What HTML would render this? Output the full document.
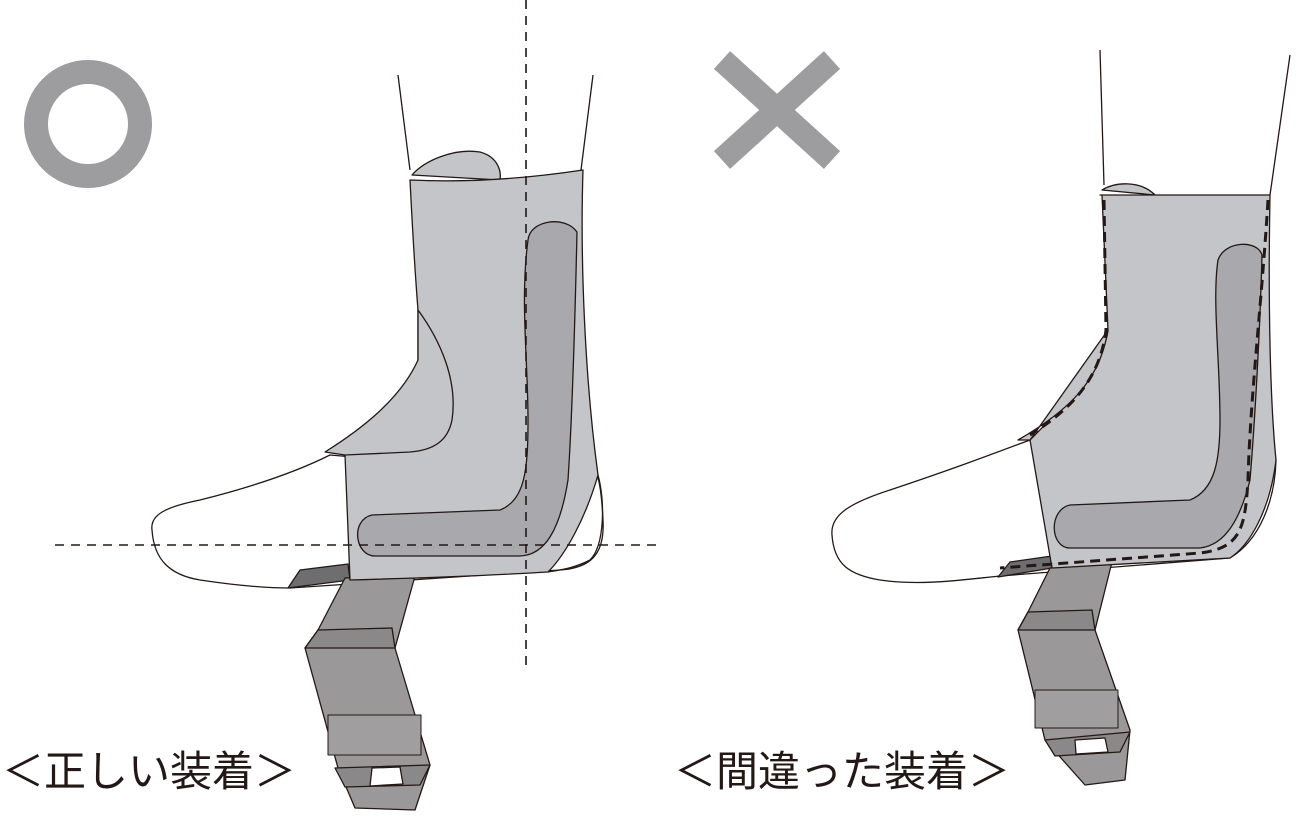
<!DOCTYPE html>
<html><head><meta charset="utf-8">
<style>
html,body{margin:0;padding:0;background:#fff;}
svg{display:block;}
text{font-family:"Liberation Sans","Noto Sans CJK JP",sans-serif;}
</style></head>
<body>
<svg width="1300" height="819" viewBox="0 0 1300 819" xmlns="http://www.w3.org/2000/svg">
<g stroke="#231815" stroke-width="1.3" stroke-linejoin="round">
<!-- LEFT FIGURE -->
<circle cx="88" cy="124" r="52" fill="none" stroke="#9d9d9f" stroke-width="24"/>
<line x1="398" y1="75" x2="410" y2="170" fill="none"/>
<line x1="593" y1="75" x2="581" y2="170" fill="none"/>
<path d="M412 175 C425 160 455 148 480 152 C495 156 502 168 500 180 Z" fill="#c4c5c9"/>
<path d="M330 455 C300 470 260 485 200 500 C165 507 150 515 152 530 C154 560 170 575 200 580 C240 586 270 588 290 588 L560 570 C590 568 605 555 603 520 C602 500 600 485 598 478 Z" fill="#fff"/>
<path d="M288 588 L300 570 L348 564 L350 580 Z" fill="#6e6e70"/>
<path d="M345 578 L415 576 L395 648 L430 765 L415 810 L355 808 L338 768 L305 648 L318 630 Z" fill="#9a9898"/>
<path d="M318 630 L392 628 L395 648 L305 648 Z" fill="#8a8888"/>
<rect x="328" y="715" width="93" height="40" fill="#a09e9e" stroke-width="1"/>
<path d="M335 768 L430 765 L420 785 L345 787 Z" fill="#8a8888"/>
<path d="M372 768 L400 767 L403 784 L370 786 Z" fill="#fff"/>
<path d="M410 180 C470 183 530 178 583 170 C580 260 585 380 598 475 C585 520 565 555 548 572 C480 576 420 578 350 580 L345 455 C380 450 410 440 418 430 L418 310 C414 260 412 220 410 180 Z" fill="#c4c5c9"/>
<path d="M418 310 C440 340 458 380 452 420 C448 440 435 450 410 452 L345 455 L325 452 C360 430 400 400 418 360 Z" fill="#c4c5c9"/>
<path d="M528 240 C530 220 565 215 577 232 C575 320 572 420 568 480 C560 530 545 555 520 556 L375 556 C355 556 350 520 372 515 L500 510 C525 500 528 470 528 420 C528 360 520 300 528 240 Z" fill="#a9a9ad"/>
<path d="M598 475 C605 500 605 545 590 560 C575 568 560 570 548 572" fill="none"/>
</g>
<g stroke="#231815" stroke-width="1.6" stroke-dasharray="9,7" fill="none">
<line x1="526" y1="0" x2="526" y2="668"/>
<line x1="55" y1="545" x2="658" y2="545"/>
</g>

<g stroke="#231815" stroke-width="1.3" stroke-linejoin="round">
<path d="M722 60 L832 160 M832 60 L722 160" stroke="#9d9d9f" stroke-width="24" fill="none"/>
<line x1="1100" y1="50" x2="1104" y2="185" fill="none"/>
<line x1="1290" y1="55" x2="1270" y2="195"/>
<path d="M1102 190 C1115 182 1140 180 1155 195 Z" fill="#c4c5c9"/>
<path d="M1030 440 C990 455 950 470 890 490 C850 503 830 515 832 535 C834 565 850 575 880 580 C920 586 960 580 1000 576 L1230 558 C1260 540 1275 500 1276 460 Z" fill="#fff"/>
<path d="M998 577 L1010 562 L1052 556 L1052 568 Z" fill="#6e6e70"/>
<path d="M1050 568 L1112 562 L1095 630 L1130 730 L1125 780 L1085 785 L1045 740 L1018 630 L1028 612 Z" fill="#9a9898"/>
<path d="M1028 612 L1092 610 L1095 630 L1018 630 Z" fill="#8a8888"/>
<rect x="1035" y="690" width="83" height="38" fill="#a09e9e" stroke-width="1"/>
<path d="M1045 740 L1130 732 L1120 752 L1055 756 Z" fill="#8a8888"/>
<path d="M1075 740 L1105 738 L1108 752 L1076 754 Z" fill="#fff"/>
<path d="M1100 195 L1270 195 C1268 300 1270 400 1276 460 C1270 510 1250 545 1230 558 L1052 568 L1030 440 C1070 400 1105 360 1108 330 L1102 195 Z" fill="#c4c5c9"/>
<path d="M1108 330 C1100 380 1070 410 1018 440 L1030 440 Z" fill="#c4c5c9"/>
<path d="M1218 260 C1225 240 1258 240 1262 255 C1260 330 1255 420 1250 480 C1240 520 1225 545 1200 548 L1070 548 C1050 548 1048 510 1070 505 L1190 500 C1215 490 1220 460 1220 420 C1220 360 1212 300 1218 260 Z" fill="#a9a9ad"/>
</g>
<g stroke="#231815" stroke-width="3" stroke-dasharray="10,6" fill="none">
<path d="M1104 200 L1106 330 C1100 380 1070 410 1030 435"/>
<path d="M1268 200 C1262 300 1250 400 1248 480 C1245 530 1240 548 1200 553 L1000 568"/>
</g>

<text x="2" y="786" font-size="42" fill="#231815">＜正しい装着＞</text>
<text x="674" y="786" font-size="42" fill="#231815">＜間違った装着＞</text>
</svg>
</body></html>
